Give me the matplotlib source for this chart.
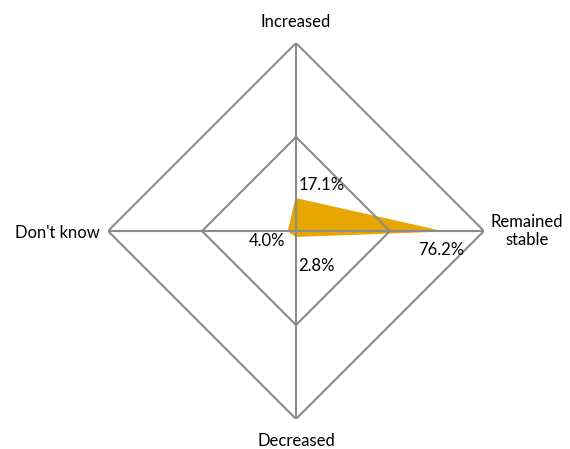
import matplotlib.pyplot as plt
import numpy as np

categories = ["Increased", "Remained\nstable", "Decreased", "Don't know"]
values = [17.1, 76.2, 2.8, 4.0]
value_labels = ["17.1%", "76.2%", "2.8%", "4.0%"]
grid_levels = [50, 100]

plt.rcParams['font.family'] = ['Lato', 'DejaVu Sans']

fig = plt.figure(figsize=(5.70, 4.49), dpi=100)
ax = fig.add_axes([0.1895, 0.0668, 0.6596, 0.8374], projection='polar')

# top, right, bottom, left
theta = np.deg2rad([90, 0, 270, 180])
tc = np.append(theta, theta[0])

ax.fill(tc, np.append(values, values[0]), facecolor='#E8A600',
        edgecolor='#E8A600', lw=1.0, joinstyle='miter', zorder=2)

for g in grid_levels:
    ax.plot(tc, [g] * len(tc), color='#8c8c8c', lw=1.5, zorder=3)
for t in theta:
    ax.plot([t, t], [0, grid_levels[-1]], color='#8c8c8c', lw=1.5, zorder=3)

ax.set_ylim(0, 100)
ax.grid(False)
ax.set_xticks([])
ax.set_yticks([])
ax.spines['polar'].set_visible(False)

fs = 12

# value labels, offsets in pixels from the point
offs = [(26, 14), (2, -19), (20, -30), (-21, -10)]
for t, v, lab, o in zip(theta, values, value_labels, offs):
    ax.annotate(lab, xy=(t, v), xytext=o, textcoords='offset pixels',
                ha='center', va='center', fontsize=fs, zorder=4)

# category labels
cat_offs = [(0, 21, 'center'), (7, 0, 'left'), (0, -22, 'center'), (-8, -2, 'right')]
for t, c, (dx, dy, ha) in zip(theta, categories, cat_offs):
    ax.annotate(c, xy=(t, 100), xytext=(dx, dy), textcoords='offset pixels',
                ha=ha, va='center', fontsize=fs, multialignment='center',
                annotation_clip=False)

fig.savefig("out.png", dpi=100)
